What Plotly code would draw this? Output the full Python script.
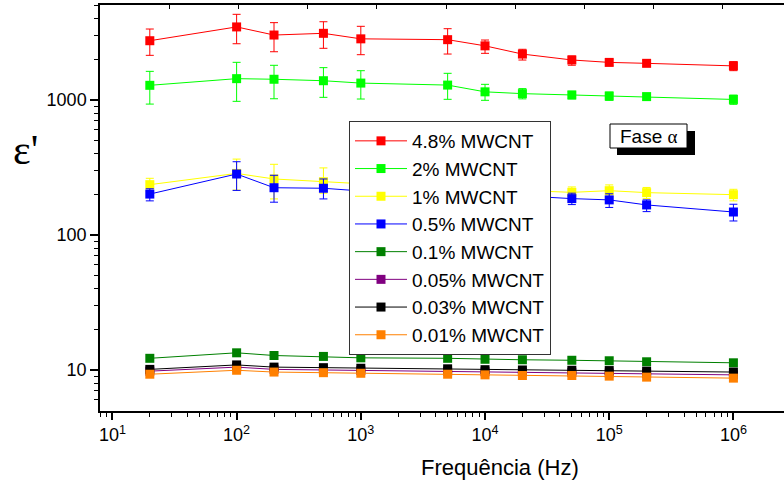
import plotly.graph_objects as go

# ---------------- data ----------------
freq = [20, 100, 200, 500, 1000, 5000, 1e4, 2e4, 5e4, 1e5, 2e5, 1e6]

series_names = ["4.8% MWCNT", "2% MWCNT", "1% MWCNT", "0.5% MWCNT",
                "0.1% MWCNT", "0.05% MWCNT", "0.03% MWCNT", "0.01% MWCNT"]
series_colors = ["#FF0000", "#00FF00", "#FFFF00", "#0000FF",
                 "#008000", "#800080", "#000000", "#FF8000"]

eps_48 = [2750, 3480, 3030, 3120, 2840, 2800, 2520, 2190, 1980, 1900, 1870, 1790]
eps_48_up = [607, 835, 713, 682, 676, 576, 263, 186, 140, 100, 90, 135]
eps_48_dn = [607, 868, 751, 704, 673, 609, 302, 212, 170, 100, 90, 140]

eps_2 = [1285, 1440, 1425, 1390, 1335, 1290, 1150, 1115, 1090, 1070, 1060, 1010]
eps_2_up = [346, 462, 383, 347, 314, 287, 157, 100, 70, 75, 60, 78]
eps_2_dn = [352, 462, 403, 343, 318, 278, 155, 95, 70, 75, 60, 81]

eps_1 = [236, 286, 260, 248, 240, 225, 220, 215, 207, 213, 206, 199]
eps_1_up = [27, 79, 74, 66, 50, 40, 35, 30, 20, 22, 19, 19]
eps_1_dn = [25, 71, 75, 44, 45, 35, 30, 25, 20, 20, 20, 20]

eps_05 = [201, 283, 224, 222, 212, 205, 200, 195, 186, 182, 167, 148]
eps_05_up = [19, 66, 53, 38, 30, 25, 22, 20, 18, 20, 15, 21]
eps_05_dn = [22, 69, 49, 37, 30, 25, 22, 20, 18, 22, 18, 21]

eps_01 = [12.2, 13.4, 12.8, 12.6, 12.3, 12.2, 12.0, 11.9, 11.8, 11.7, 11.5, 11.3]
eps_005 = [9.8, 10.5, 10.1, 10.0, 9.9, 9.8, 9.7, 9.65, 9.6, 9.5, 9.4, 9.2]
eps_003 = [10.1, 10.9, 10.5, 10.4, 10.3, 10.2, 10.05, 10.0, 9.95, 9.9, 9.8, 9.65]
eps_001 = [9.3, 9.95, 9.65, 9.55, 9.45, 9.3, 9.2, 9.1, 9.1, 9.0, 8.85, 8.7]

x_tickvals = [10, 100, 1e3, 1e4, 1e5, 1e6]
x_ticktext = ["10<sup>1</sup>", "10<sup>2</sup>", "10<sup>3</sup>",
              "10<sup>4</sup>", "10<sup>5</sup>", "10<sup>6</sup>"]
y_tickvals = [10, 100, 1000]
y_ticktext = ["10", "100", "1000"]

# ---------------- figure ----------------
W, H = 784, 483
ML, MR, MT, MB = 100, 0, 5, 72
PW, PH = W - ML - MR, H - MT - MB

def px(xp):
    return (xp - ML) / PW

def py(yp):
    return (H - MB - yp) / PH

FONT = "Liberation Sans, Arial, sans-serif"

values = [eps_48, eps_2, eps_1, eps_05, eps_01, eps_005, eps_003, eps_001]
ups = [eps_48_up, eps_2_up, eps_1_up, eps_05_up, None, None, None, None]
dns = [eps_48_dn, eps_2_dn, eps_1_dn, eps_05_dn, None, None, None, None]

fig = go.Figure()
for name, col, v, u, d in zip(series_names, series_colors, values, ups, dns):
    err = None
    if u is not None:
        err = dict(type="data", symmetric=False, array=u, arrayminus=d,
                   color=col, thickness=1, width=4)
    fig.add_trace(go.Scatter(
        x=freq, y=v, name=name, mode="lines+markers",
        line=dict(color=col, width=1),
        marker=dict(symbol="square", size=9, color=col, line=dict(width=0)),
        error_y=err,
    ))

# dummy trace to realise the top (linear) axis
fig.add_trace(go.Scatter(x=[1], y=[100], xaxis="x2", yaxis="y", mode="markers",
                         marker=dict(size=1, opacity=0), showlegend=False,
                         hoverinfo="skip"))

minor_x = [8, 9] + [m * 10 ** e for e in range(1, 6) for m in range(2, 10)]
minor_y = [6, 7, 8, 9] + [m * 10 ** e for e in range(1, 3) for m in range(2, 10)] + [2000, 3000, 4000, 5000]

fig.update_layout(
    width=W, height=H,
    margin=dict(l=ML, r=MR, t=MT, b=MB, pad=0, autoexpand=False),
    paper_bgcolor="white", plot_bgcolor="white",
    font=dict(family=FONT, color="black", size=18),
    showlegend=True,
    legend=dict(
        x=px(349), y=py(121), xanchor="left", yanchor="top",
        bgcolor="white", bordercolor="#333333", borderwidth=1,
        font=dict(family=FONT, size=19, color="black"),
        itemwidth=52, tracegroupgap=0,
    ),
    xaxis=dict(
        type="log", range=[0.9, 0.9 + PW / 124.2], automargin=False,
        tickvals=x_tickvals, ticktext=x_ticktext,
        ticks="outside", ticklen=7, tickwidth=1.5, tickcolor="black",
        showline=True, linecolor="black", linewidth=1.5,
        showgrid=False, zeroline=False,
        tickfont=dict(family=FONT, size=18, color="black"),
        minor=dict(tickmode="array", tickvals=minor_x, ticks="outside",
                   ticklen=4, tickwidth=1, tickcolor="black", showgrid=False),
    ),
    xaxis2=dict(
        overlaying="x", side="top", anchor="y", range=[0, PW / 69.2],
        automargin=False,
        tickvals=[1, 2, 3, 4, 5, 6, 7, 8, 9], ticks="inside", ticklen=4,
        tickwidth=1, tickcolor="black", showticklabels=False,
        showline=True, linecolor="black", linewidth=1.5,
        showgrid=False, zeroline=False,
    ),
    yaxis=dict(
        type="log", range=[0.696, 3.704], automargin=False,
        tickvals=y_tickvals, ticktext=y_ticktext,
        ticks="outside", ticklen=8, tickwidth=1.5, tickcolor="black",
        showline=True, linecolor="black", linewidth=1.5,
        showgrid=False, zeroline=False,
        tickfont=dict(family=FONT, size=18, color="black"),
        minor=dict(tickmode="array", tickvals=minor_y, ticks="outside",
                   ticklen=4, tickwidth=1, tickcolor="black", showgrid=False),
    ),
    shapes=[
        dict(type="rect", xref="paper", yref="paper",
             x0=px(617), x1=px(695), y0=py(155), y1=py(131),
             fillcolor="black", line=dict(width=0), layer="above"),
        dict(type="rect", xref="paper", yref="paper",
             x0=px(610), x1=px(687), y0=py(148), y1=py(124),
             fillcolor="white", line=dict(color="black", width=1), layer="above"),
    ],
    annotations=[
        dict(text="Fase <span style='font-family:Liberation Serif'>α</span>",
             xref="paper", yref="paper", x=px(648.5), y=py(136),
             xanchor="center", yanchor="middle", showarrow=False,
             font=dict(family=FONT, size=19, color="black")),
        dict(text="Frequência (Hz)", xref="paper", yref="paper",
             x=px(500), y=py(468), xanchor="center", yanchor="middle",
             showarrow=False, font=dict(family=FONT, size=22, color="black")),
        dict(text="ε'", xref="paper", yref="paper",
             x=px(25), y=py(150), xanchor="center", yanchor="middle",
             showarrow=False, font=dict(family="Liberation Serif, serif", size=42, color="black")),
    ],
)

fig.write_html(
    "out.html",
    config={"displayModeBar": False},
    post_script="document.body.style.margin='0';document.body.style.overflow='hidden';",
)
